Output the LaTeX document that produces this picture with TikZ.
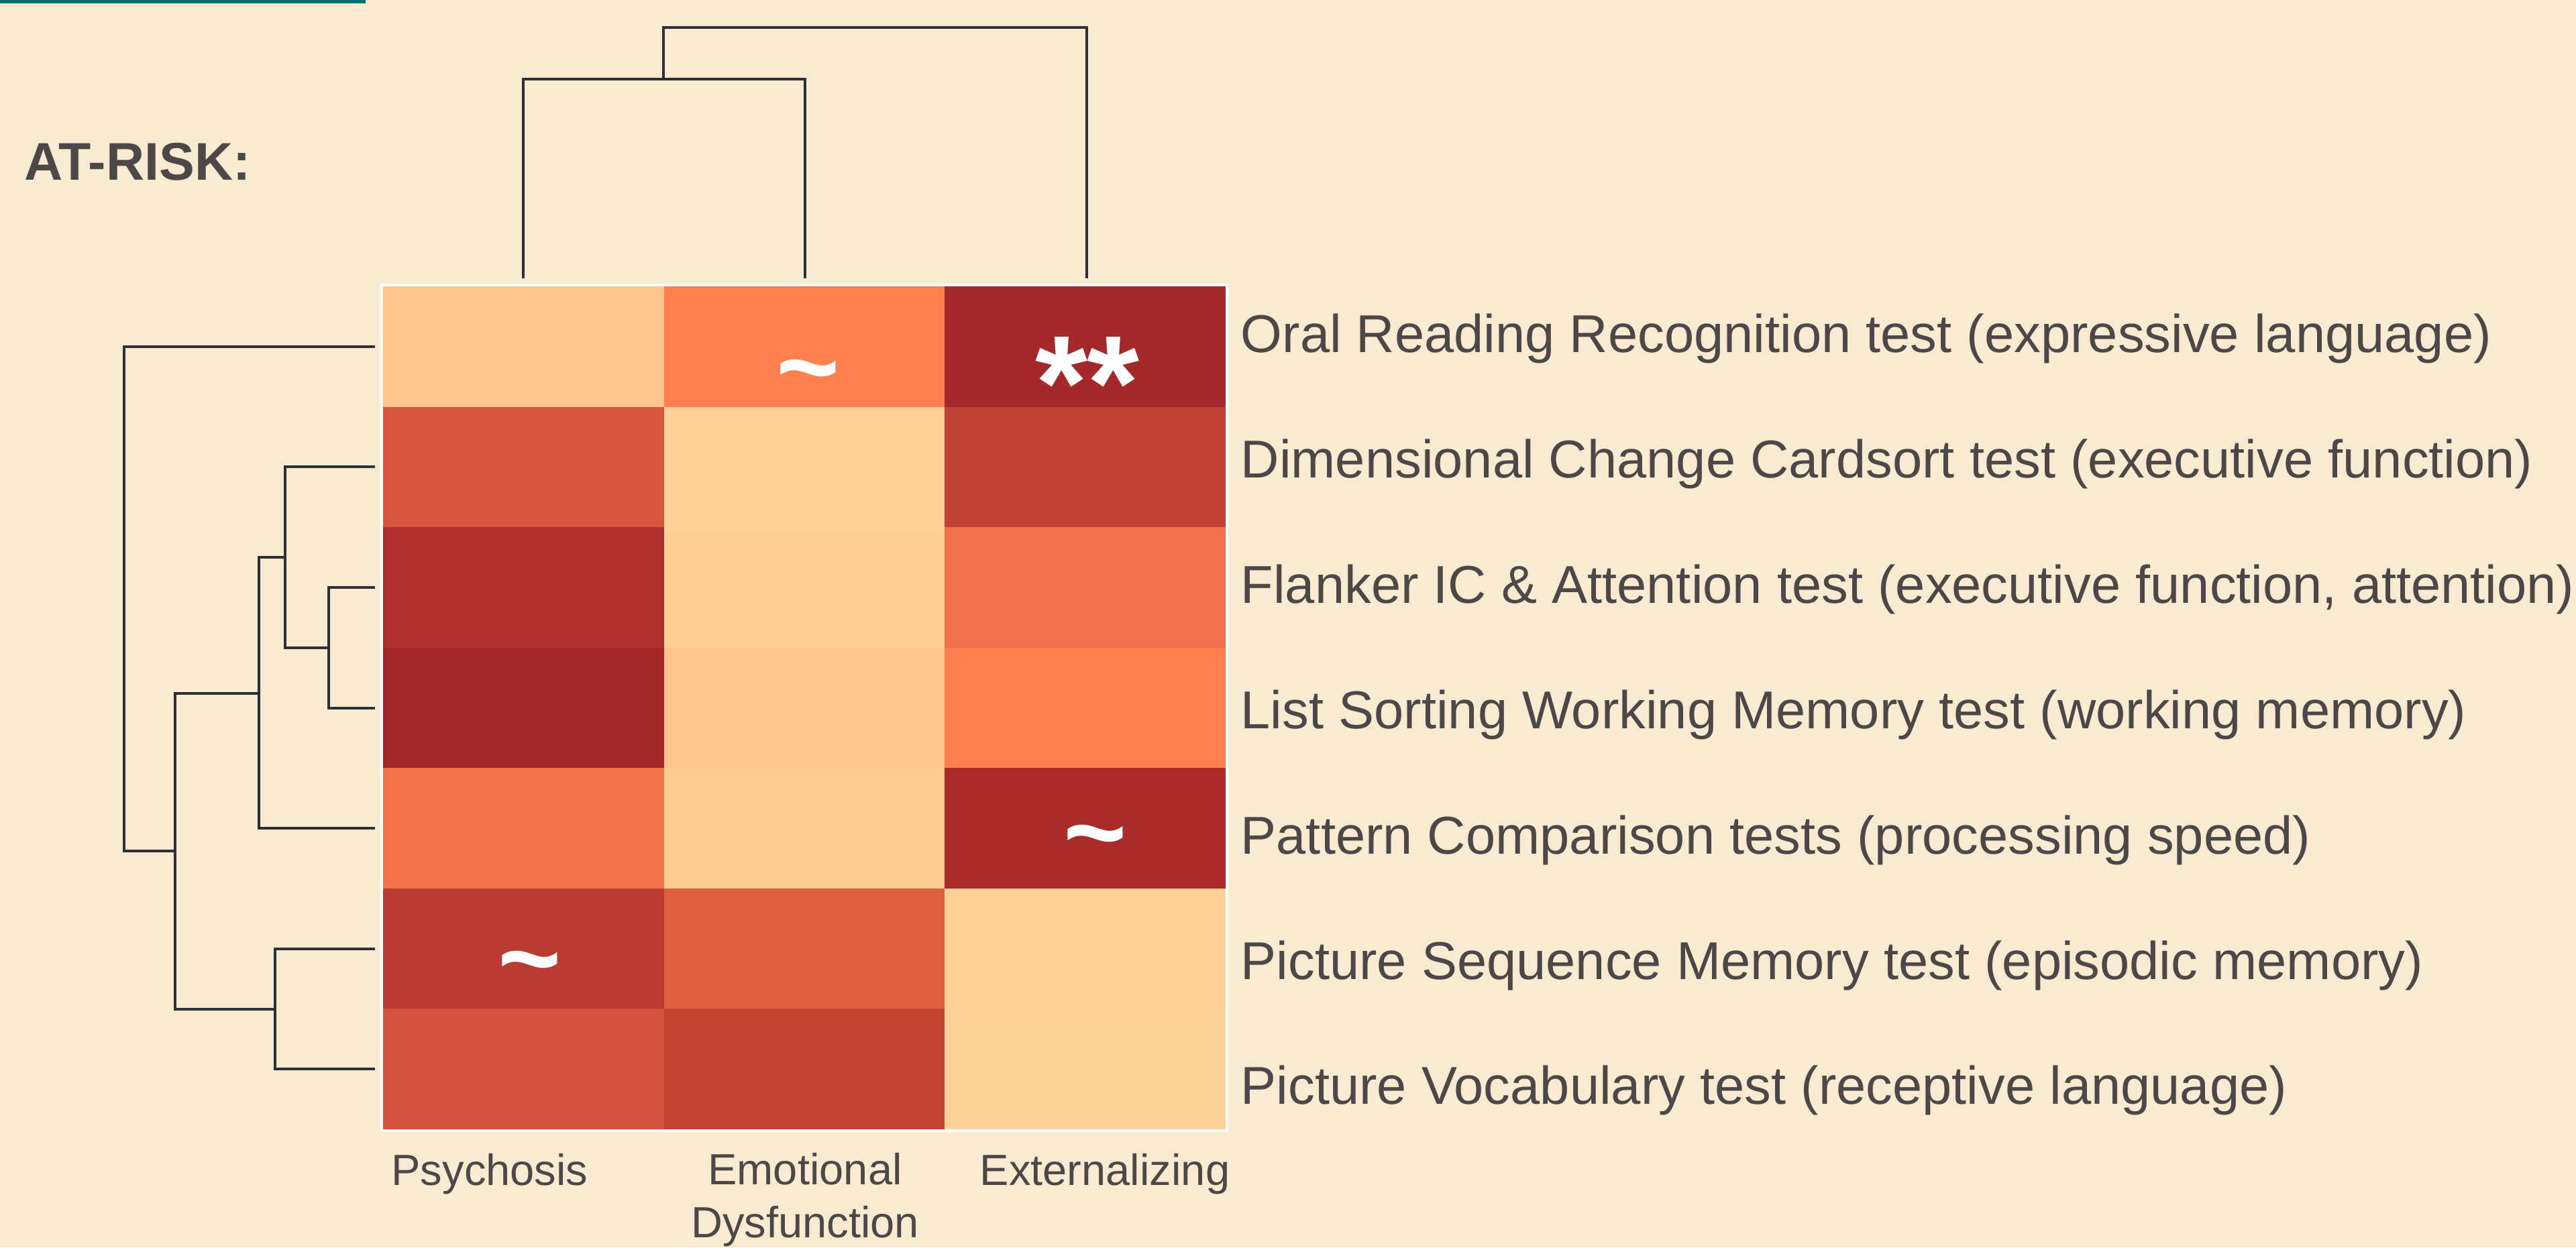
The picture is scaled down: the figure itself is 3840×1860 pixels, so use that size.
\documentclass[tikz,border=0pt]{standalone}
\usepackage{fontspec}
\setmainfont{Liberation Sans}

\definecolor{paper}{RGB}{249,235,209}
\definecolor{barteal}{RGB}{0,112,112}
\definecolor{inkgray}{RGB}{77,72,72}
\definecolor{treeline}{RGB}{45,48,55}

\definecolor{c11}{HTML}{FEC58D}
\definecolor{c12}{HTML}{FF7F4F}
\definecolor{c13}{HTML}{A5292A}
\definecolor{c21}{HTML}{D6573E}
\definecolor{c22}{HTML}{FFD299}
\definecolor{c23}{HTML}{C04135}
\definecolor{c31}{HTML}{AE302E}
\definecolor{c32}{HTML}{FFCF96}
\definecolor{c33}{HTML}{F0704B}
\definecolor{c41}{HTML}{A4282A}
\definecolor{c42}{HTML}{FEC48D}
\definecolor{c43}{HTML}{FF7F4F}
\definecolor{c51}{HTML}{F3744A}
\definecolor{c52}{HTML}{FECB93}
\definecolor{c53}{HTML}{AA2C2A}
\definecolor{c61}{HTML}{BA3B31}
\definecolor{c62}{HTML}{DE5E40}
\definecolor{c63}{HTML}{FFD299}
\definecolor{c71}{HTML}{D2543E}
\definecolor{c72}{HTML}{C24435}
\definecolor{c73}{HTML}{FFD39A}

\begin{document}
\begin{tikzpicture}[x=0.01cm,y=-0.01cm]

	\tikzset{tree line/.style={draw=treeline, line width=1.15pt},
		row label/.style={anchor=base west, inner sep=0pt, text=inkgray, font=\fontsize{22.6}{27}\selectfont},
		col label/.style={anchor=base, inner sep=0pt, text=inkgray, align=center, font=\fontsize{18.5}{22.2}\selectfont},
		sig star/.style={anchor=base, inner sep=0pt, text=white, font=\fontsize{57}{57}\selectfont\bfseries},
		sig tilde/.style={anchor=base, inner sep=0pt, text=white, font=\fontsize{46}{46}\selectfont\bfseries}}

	\useasboundingbox (0,0) rectangle (3840,1860);
	\fill[paper] (0,0) rectangle (3840,1860);
	\fill[barteal] (0,0) rectangle (545,5);

	\node[anchor=base west, inner sep=0pt, text=inkgray, font=\fontsize{22.5}{27}\selectfont\bfseries] (atrisk) at (36,268) {AT-RISK:};

	% heatmap
	\draw[white, line width=0.9pt] (569,425) rectangle (1829,1686);

	\fill[c11] (571,427) rectangle (990,607);
	\fill[c12] (990,427) rectangle (1408,607);
	\fill[c13] (1408,427) rectangle (1827,607);
	\fill[c21] (571,607) rectangle (990,786);
	\fill[c22] (990,607) rectangle (1408,786);
	\fill[c23] (1408,607) rectangle (1827,786);
	\fill[c31] (571,786) rectangle (990,966);
	\fill[c32] (990,786) rectangle (1408,966);
	\fill[c33] (1408,786) rectangle (1827,966);
	\fill[c41] (571,966) rectangle (990,1145);
	\fill[c42] (990,966) rectangle (1408,1145);
	\fill[c43] (1408,966) rectangle (1827,1145);
	\fill[c51] (571,1145) rectangle (990,1325);
	\fill[c52] (990,1145) rectangle (1408,1325);
	\fill[c53] (1408,1145) rectangle (1827,1325);
	\fill[c61] (571,1325) rectangle (990,1504);
	\fill[c62] (990,1325) rectangle (1408,1504);
	\fill[c63] (1408,1325) rectangle (1827,1504);
	\fill[c71] (571,1504) rectangle (990,1684);
	\fill[c72] (990,1504) rectangle (1408,1684);
	\fill[c73] (1408,1504) rectangle (1827,1684);

	\node[sig star] (starsA) at (1621,640) {**};
	\node[sig tilde] (tildeA) at (1205,602) {\char"7E};
	\node[sig tilde] (tildeB) at (1633,1296) {\char"7E};
	\node[sig tilde] (tildeC) at (790,1484) {\char"7E};

	% row labels
	\node[row label] (oral) at (1849,525) {Oral Reading Recognition test (expressive language)};
	\node[row label] (dccs) at (1849,712) {Dimensional Change Cardsort test (executive function)};
	\node[row label] (flanker) at (1849,899) {Flanker IC \& Attention test (executive function, attention)};
	\node[row label] (listsort) at (1849,1086) {List Sorting Working Memory test (working memory)};
	\node[row label] (pattern) at (1849,1273) {Pattern Comparison tests (processing speed)};
	\node[row label] (picseq) at (1849,1460) {Picture Sequence Memory test (episodic memory)};
	\node[row label] (picvocab) at (1849,1646) {Picture Vocabulary test (receptive language)};

	% column labels
	\node[col label] (psy) at (730,1767) {Psychosis};
	\node[col label] (emo) at (1200,1845) {Emotional\\Dysfunction};
	\node[col label] (ext) at (1647,1767) {Externalizing};

	% row dendrogram
	\coordinate (e1) at (559,517);
	\coordinate (e2) at (559,696);
	\coordinate (e3) at (559,876);
	\coordinate (e4) at (559,1056);
	\coordinate (e5) at (559,1235);
	\coordinate (e6) at (559,1415);
	\coordinate (e7) at (559,1594);

	\coordinate (m5) at (490,966);
	\coordinate (m4) at (425,831);
	\coordinate (m3) at (386,1034);
	\coordinate (m6) at (410,1505);
	\coordinate (m2) at (261,1269);
	\coordinate (m1) at (185,892);

	\draw[tree line] (e3) -| (m5) |- (e4);
	\draw[tree line] (e2) -| (m4) |- (m5);
	\draw[tree line] (m4) -| (m3) |- (e5);
	\draw[tree line] (e6) -| (m6) |- (e7);
	\draw[tree line] (m3) -| (m2) |- (m6);
	\draw[tree line] (e1) -| (m1) |- (m2);

	% column dendrogram
	\coordinate (t1) at (780,415);
	\coordinate (t2) at (1200,415);
	\coordinate (t3) at (1620,415);
	\coordinate (k2) at (989,118);
	\coordinate (k1) at (1300,41);

	\draw[tree line] (t1) |- (k2) -| (t2);
	\draw[tree line] (k2) |- (k1) -| (t3);

\end{tikzpicture}
\end{document}
